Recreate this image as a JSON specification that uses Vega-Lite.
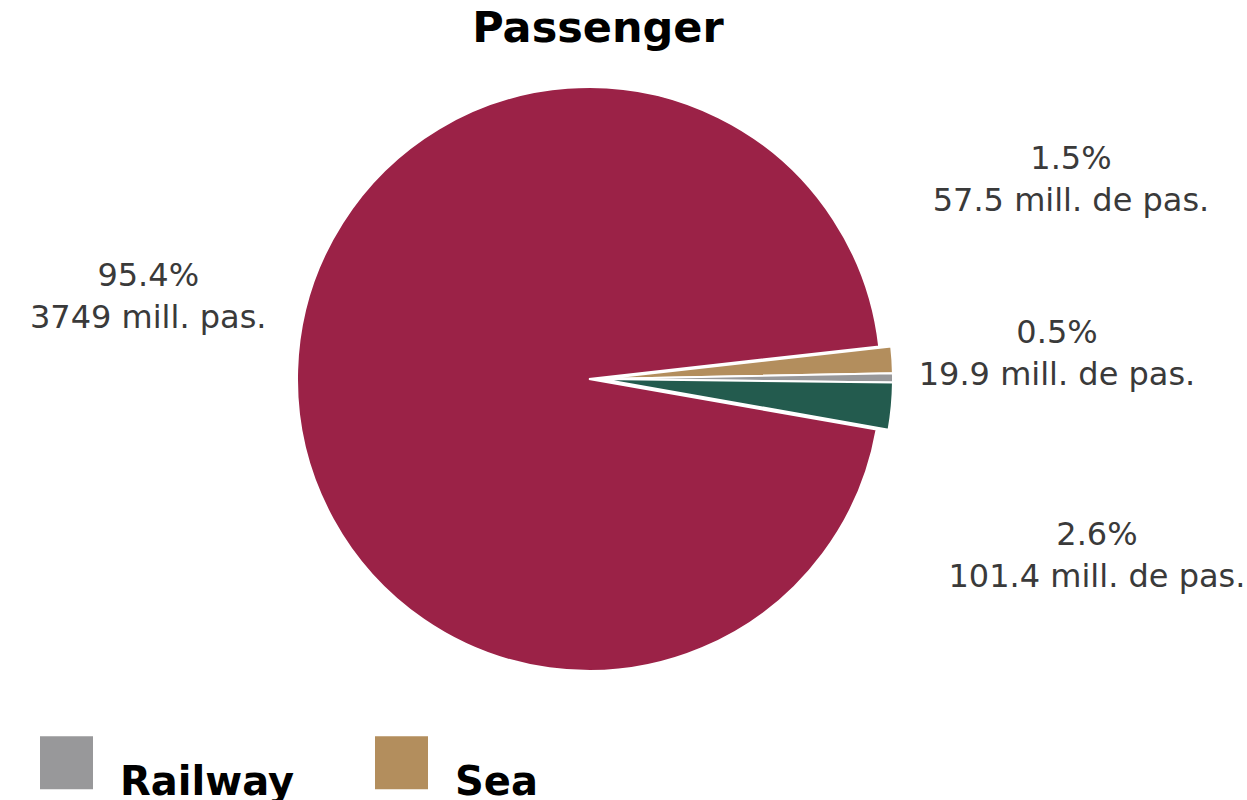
{
  "$schema": "https://vega.github.io/schema/vega-lite/v6.json",
  "width": 1178,
  "height": 626,
  "padding": {"left": 0, "top": 8, "right": 0, "bottom": 0},
  "background": "white",
  "config": {"view": {"stroke": null}, "font": "DejaVu Sans"},
  "title": {"text": "Passenger", "fontSize": 43, "font": "DejaVu Sans", "fontWeight": "bold", "color": "#000000", "anchor": "middle", "offset": 15, "dx": 9},
  "data": {"values": [
    {"mode": "Sea", "passengers": 57.5, "label": "1.5%\n57.5 mill. de pas.", "rank": 1},
    {"mode": "Railway", "passengers": 19.9, "label": "0.5%\n19.9 mill. de pas.", "rank": 2},
    {"mode": "Air", "passengers": 101.4, "label": "2.6%\n101.4 mill. de pas.", "rank": 3},
    {"mode": "Road", "passengers": 3749, "label": "95.4%\n3749 mill. pas.", "rank": 4}
  ]},
  "encoding": {
    "theta": {"field": "passengers", "type": "quantitative", "stack": true, "scale": {"range": [1.459, 7.7422]}},
    "order": {"field": "rank", "type": "quantitative"}
  },
  "layer": [
    {
      "mark": {"type": "arc", "radius": 292, "stroke": "white", "strokeWidth": 2},
      "encoding": {
        "color": {"field": "mode", "type": "nominal",
          "scale": {"domain": ["Railway", "Sea", "Road", "Air"], "range": ["#98989A", "#B38E5D", "#9B2247", "#235B4E"]},
          "legend": {"orient": "none", "legendX": 40, "legendY": 670, "direction": "horizontal", "columns": 2, "columnPadding": 80, "rowPadding": 20, "title": null,
            "symbolType": "square", "symbolSize": 2809, "symbolStrokeWidth": 0, "symbolOpacity": 1,
            "labelFontSize": 40, "labelFont": "DejaVu Sans", "labelFontWeight": "bold", "labelColor": "#000000", "labelOffset": 27, "labelLimit": 400, "labelBaseline": "top"}},
        "opacity": {"condition": {"test": "datum.mode === 'Road'", "value": 1}, "value": 0}
      }
    },
    {
      "mark": {"type": "arc", "radius": 292, "stroke": "white", "strokeWidth": 2, "xOffset": 12},
      "encoding": {
        "color": {"field": "mode", "type": "nominal"},
        "opacity": {"condition": {"test": "datum.mode === 'Road'", "value": 0}, "value": 1}
      }
    },
    {
      "mark": {"type": "text", "radius": 470, "fontSize": 32, "lineHeight": 42, "lineBreak": "\n", "align": "center", "baseline": "middle", "dx": 29, "dy": -88, "color": "#3a3a3a"},
      "encoding": {"text": {"condition": {"test": "datum.mode === 'Road'", "field": "label"}, "value": ""}}
    },
    {
      "mark": {"type": "text", "radius": 470, "fontSize": 32, "lineHeight": 42, "lineBreak": "\n", "align": "center", "baseline": "middle", "dx": 13, "dy": -189, "color": "#3a3a3a"},
      "encoding": {"text": {"condition": {"test": "datum.mode === 'Sea'", "field": "label"}, "value": ""}}
    },
    {
      "mark": {"type": "text", "radius": 470, "fontSize": 32, "lineHeight": 42, "lineBreak": "\n", "align": "center", "baseline": "middle", "dx": -2, "dy": -44, "color": "#3a3a3a"},
      "encoding": {"text": {"condition": {"test": "datum.mode === 'Railway'", "field": "label"}, "value": ""}}
    },
    {
      "mark": {"type": "text", "radius": 470, "fontSize": 32, "lineHeight": 42, "lineBreak": "\n", "align": "center", "baseline": "middle", "dx": 40, "dy": 112, "color": "#3a3a3a"},
      "encoding": {"text": {"condition": {"test": "datum.mode === 'Air'", "field": "label"}, "value": ""}}
    }
  ]
}
